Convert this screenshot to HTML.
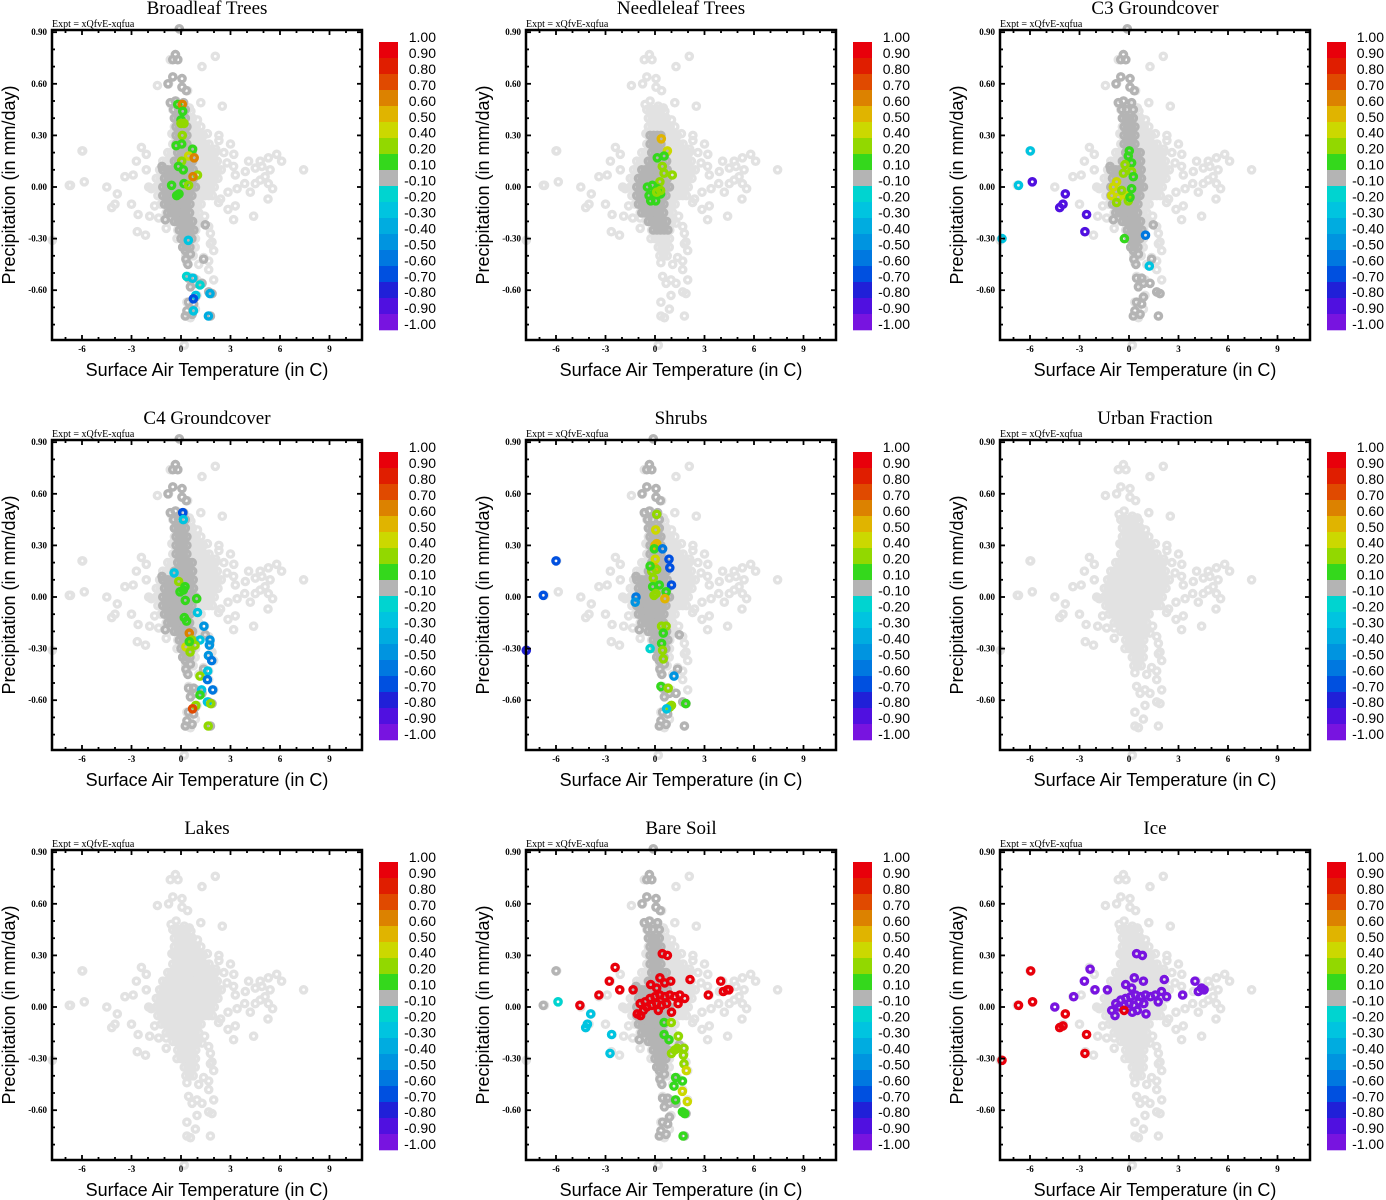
<!DOCTYPE html>
<html><head><meta charset="utf-8"><style>
html,body{margin:0;padding:0;background:#fff;}
svg{display:block;}
.serif{font-family:"Liberation Serif",serif;}
.sans{font-family:"Liberation Sans",sans-serif;}
</style></head>
<body>
<svg id="fig" width="1386" height="1200" xmlns="http://www.w3.org/2000/svg"></svg>
<script>
// ---- shared data ----
const panelTitles = ["Broadleaf Trees","Needleleaf Trees","C3 Groundcover","C4 Groundcover","Shrubs","Urban Fraction","Lakes","Bare Soil","Ice"];
const panelDark = ["full","core","full","full","full","none","none","full","none"];
const xTicks = [-6,-3,0,3,6,9];
const yTicks = [0.9,0.6,0.3,0.0,-0.3,-0.6];
const cbarLabels = ["1.00","0.90","0.80","0.70","0.60","0.50","0.40","0.20","0.10","-0.10","-0.20","-0.30","-0.40","-0.50","-0.60","-0.70","-0.80","-0.90","-1.00"];
const cbarCenters = [0.95,0.85,0.75,0.65,0.55,0.45,0.3,0.15,0,-0.15,-0.25,-0.35,-0.45,-0.55,-0.65,-0.75,-0.85,-0.95];
const cbarColors = ['#e8000b','#e01e00','#e04a00','#dc8200','#e0b400','#ccd800','#92d800','#34d81c','#b4b4b4','#00d4d0','#00c4e0','#00ace0','#0094e0','#0078e0','#0050e0','#2020d8','#5010e0','#7814e0'];

// light-gray scattered points (temperature, precipitation)
const lightT = [-5.96,-6.7,-5.86,-4.5,-3.86,-4.2,-4.0,-3.0,-3.4,-2.9,-2.7,-2.4,-2.1,-2.1,-2.6,-2.65,-2.15,-1.9,-1.96,-1.8,-1.35,-0.9,-1.6,-0.9,-0.24,-1.43,-0.75,-0.5,-0.65,-0.34,-0.18,0.06,0.06,0.4,1.27,2.08,1.2,2.5,-0.6,-0.3,0.2,0.5,0.6,1.0,1.2,1.6,-0.55,0.77,2.3,2.3,3.0,3.2,2.1,2.6,2.79,3.19,3.29,3.9,4.1,4.5,4.8,4.9,5.3,5.8,6.1,5.4,5.1,4.8,4.5,3.86,4.2,5.3,5.55,5.27,4.4,3.19,3.29,2.85,3.4,2.85,2.4,2.28,7.43,1.43,1.68,1.27,1.78,1.88,1.98,1.78,1.37,1.68,1.68,1.98,1.07,0.36,0.46,0.67,0.97,1.27,1.68,1.88,0.97,0.36,0.87,0.36,0.57,1.78,-7.8,0.2,-6.0,-6.77];
const lightP = [0.21,0.01,0.03,0.0,-0.04,-0.12,-0.1,-0.1,0.06,0.07,0.15,0.23,0.19,0.10,-0.16,-0.26,-0.28,-0.17,0,-0.01,-0.18,-0.18,-0.11,-0.24,-0.3,0.59,0.6,0.64,0.74,0.77,0.74,0.63,0.58,0.56,0.7,0.76,0.49,0.47,0.48,0.5,0.47,0.46,0.44,0.39,0.35,0.31,0.31,0.30,0.30,0.27,0.25,0.19,0.22,0.2,0.14,0.12,0.07,0.09,0.15,0.11,0.15,0.12,0.17,0.19,0.15,0.10,0.06,0.04,0.02,0.02,-0.03,0.02,-0.01,-0.07,-0.17,-0.19,-0.11,-0.13,-0.01,-0.03,-0.07,-0.09,0.1,-0.17,-0.23,-0.21,-0.27,-0.32,-0.37,-0.33,-0.41,-0.43,-0.48,-0.54,-0.45,-0.44,-0.52,-0.56,-0.54,-0.56,-0.61,-0.62,-0.63,-0.67,-0.71,-0.75,-0.76,-0.75,-0.31,-0.92,0.21,0.01];
// light-gray dense core rows
const lightRowP = [0.45,0.40,0.35,0.30,0.25,0.20,0.15,0.10,0.05,0.00,-0.05,-0.10,-0.15,-0.20,-0.25,-0.30,-0.35,-0.40];
const lightRowMin = [-0.5,-0.4,-0.4,-0.4,-0.5,-0.8,-1.1,-1.3,-1.5,-1.5,-1.4,-1.2,-0.9,-0.5,-0.2,0.0,0.2,0.3];
const lightRowMax = [0.5,0.7,1.0,1.4,1.8,2.2,2.4,2.6,2.4,2.2,1.9,1.4,1.1,1.1,1.0,0.9,1.0,0.8];

// dark-gray points (shared column)
const darkT = [-0.34,-0.5,-0.2,-0.5,-0.79,0.06,0.06,0.32,-0.34,-0.65,0.16,-0.44,-0.14,0.26,0.26,0.57,0.3,0.42,1.37,0.46,0.77,0.87,0.57,1.27,1.68,1.88,0.87,0.46,0.77,0.36,0.26,0.67,1.78,-1.15,-1.1,-0.95,1.47,-0.1];
const darkP = [0.77,0.74,0.74,0.64,0.6,0.63,0.58,0.56,0.50,0.49,0.49,0.45,0.45,0.45,-0.37,-0.39,-0.42,-0.45,-0.42,-0.53,-0.53,-0.56,-0.58,-0.56,-0.61,-0.62,-0.64,-0.67,-0.68,-0.72,-0.75,-0.74,-0.75,0.12,0.10,-0.19,-0.22,0.92];
const darkRowP = [0.40,0.35,0.30,0.25,0.20,0.15,0.10,0.05,0.00,-0.05,-0.10,-0.15,-0.20,-0.25,-0.30,-0.35];
const darkRowMin = [-0.4,-0.3,-0.3,-0.3,-0.2,-0.4,-0.8,-1.0,-1.1,-1.1,-1.0,-0.8,-0.4,-0.1,0.0,0.1];
const darkRowMax = [0.3,0.4,0.4,0.5,0.7,0.8,0.8,0.9,0.9,0.8,0.7,0.7,0.8,0.8,0.8,0.7];

// coloured points per panel: [temperature, precipitation, value]
const broadleafPts = [[-0.2,0.48,0.15],[0.08,0.48,0.65],[0.1,0.44,0.15],[0,0.39,0.15],[0,0.37,0.3],[0.18,0.37,0.3],[0.08,0.30,0.3],[0.04,0.25,0.15],[-0.3,0.24,0.15],[0.7,0.22,0.15],[0.46,0.18,0.45],[0.8,0.17,0.65],[0.04,0.15,0.3],[-0.16,0.12,0.15],[0.14,0.10,0.15],[1.0,0.07,0.3],[0.73,0.06,0.65],[-0.57,0.01,0.15],[0.18,0.02,0.15],[0.46,0.01,0.3],[-0.26,-0.05,0.15],[-0.12,-0.04,0.15],[0.34,-0.52,-0.15],[0.7,-0.53,-0.25],[1.15,-0.57,-0.15],[0.9,-0.63,-0.25],[0.75,-0.65,-0.65],[1.76,-0.62,-0.35],[0.75,-0.72,-0.25],[1.66,-0.75,-0.35],[0.44,-0.31,-0.25]];
const needleleafPts = [[0.38,0.28,0.55],[0.75,0.21,0.45],[0.14,0.17,0.15],[0.55,0.18,0.15],[0.44,0.12,0.3],[0.55,0.08,0.3],[1.05,0.07,0.3],[0.3,0.03,0.3],[-0.46,0.0,0.15],[-0.16,0.01,0.15],[0.14,-0.01,0.15],[-0.36,-0.05,0.15],[-0.06,-0.04,0.15],[0.24,-0.03,0.15],[-0.26,-0.08,0.15],[0.04,-0.08,0.15],[0.34,-0.04,0.15],[0.1,-0.03,0.3],[0.34,-0.02,0.3]];
const c3Pts = [[-5.98,0.21,-0.25],[-6.7,0.01,-0.25],[-5.86,0.03,-0.85],[-3.86,-0.04,-0.85],[-4.0,-0.1,-0.85],[-4.2,-0.12,-0.85],[-2.57,-0.16,-0.85],[-2.67,-0.26,-0.85],[-7.7,-0.30,-0.25],[-0.28,-0.30,0.15],[1.23,-0.46,-0.25],[1.0,-0.28,-0.55],[0.02,0.21,0.15],[-0.04,0.18,0.15],[0.16,0.14,0.15],[-0.24,0.13,0.3],[-0.34,0.08,0.3],[0.16,0.09,0.3],[0.26,0.06,0.15],[-0.75,0.03,0.45],[-0.95,0.0,0.45],[-1.05,-0.05,0.45],[-0.65,-0.06,0.45],[-0.14,-0.05,0.45],[0.16,-0.01,0.15],[-0.44,-0.02,0.3],[-0.04,-0.08,0.3],[-0.75,-0.09,0.3],[0.06,-0.06,0.15]];
const c4Pts = [[0.1,0.49,-0.65],[0.14,0.45,-0.2],[-0.42,0.14,-0.2],[-0.14,0.09,0.3],[0.14,0.04,0.15],[-0.06,0.03,0.15],[0.24,0.06,0.15],[0.95,-0.01,0.15],[0.26,-0.02,0.15],[0.2,-0.12,0.15],[0.34,-0.14,0.15],[1.0,-0.09,-0.25],[1.39,-0.17,-0.45],[1.15,-0.25,-0.25],[1.76,-0.25,-0.45],[1.72,-0.28,-0.45],[0.5,-0.21,0.65],[0.65,-0.25,0.3],[0.85,-0.28,0.3],[0.3,-0.29,0.45],[0.55,-0.32,0.3],[0.5,-0.26,0.15],[1.66,-0.34,-0.45],[1.86,-0.37,-0.55],[1.62,-0.43,-0.2],[1.15,-0.46,0.3],[1.6,-0.48,-0.55],[1.92,-0.54,-0.55],[1.25,-0.54,-0.2],[1.15,-0.57,0.15],[1.6,-0.61,-0.2],[1.8,-0.62,0.3],[0.9,-0.63,0.3],[0.7,-0.65,0.75],[1.65,-0.75,0.3]];
const shrubsPts = [[-6.0,0.21,-0.65],[-6.77,0.01,-0.65],[-7.8,-0.31,-0.75],[-1.15,0,-0.55],[-1.2,-0.03,-0.45],[0.1,0.48,0.3],[0.04,0.39,0.45],[0.1,0.31,0.55],[0,0.30,0.55],[-0.04,0.28,0.15],[0.46,0.28,-0.55],[0.85,0.22,-0.65],[0.9,0.17,-0.65],[0.02,0.22,0.45],[0,0.17,0.55],[0.1,0.16,0.3],[-0.2,0.15,0.3],[-0.3,0.18,0.15],[-0.1,0.11,0.3],[0.26,0.07,0.15],[-0.14,0.06,0.15],[1.0,0.07,-0.65],[0.67,0.03,0.15],[0.6,-0.01,0.55],[-0.06,0.01,0.3],[0.06,0.02,0.3],[0.4,-0.17,0.3],[0.67,-0.17,0.3],[0.5,-0.21,0.15],[0.4,-0.27,0.15],[0.46,-0.31,0.3],[0.5,-0.36,0.3],[-0.3,-0.3,-0.15],[1.15,-0.46,-0.45],[0.36,-0.52,0.15],[0.8,-0.53,0.3],[1.86,-0.62,0.15],[1.0,-0.63,0.3],[0.9,-0.64,0.3],[0.7,-0.65,-0.2]];
const urbanPts = [];
const lakesPts = [];
const bareSoilPts = [[-6.77,0.01,0],[-6.0,0.21,0],[0.44,0.31,0.95],[0.75,0.30,0.95],[-2.42,0.23,0.95],[-2.77,0.15,0.95],[-2.14,0.10,0.95],[-3.4,0.07,0.95],[-4.55,0.01,0.95],[-1.33,0.10,0.95],[0.3,0.17,0.95],[0.59,0.14,0.95],[0.95,0.15,0.95],[-0.26,0.13,0.95],[0.1,0.11,0.95],[2.12,0.16,0.95],[3.23,0.07,0.95],[3.98,0.15,0.95],[4.14,0.09,0.95],[4.38,0.10,0.95],[4.48,0.10,0.95],[1.0,-0.03,0.95],[-1.07,-0.04,0.95],[-0.87,-0.05,0.95],[-0.9,0.02,0.95],[-0.6,0.03,0.95],[-0.3,0.05,0.95],[0.0,0.06,0.95],[0.3,0.07,0.95],[0.6,0.06,0.95],[0.9,0.07,0.95],[1.2,0.06,0.95],[1.5,0.07,0.95],[1.8,0.05,0.95],[1.4,0.02,0.95],[-0.5,0.0,0.95],[-0.2,0.01,0.95],[0.1,0.02,0.95],[0.4,0.01,0.95],[0.7,0.02,0.95],[-0.7,-0.02,0.95],[0.2,-0.02,0.95],[-5.88,0.03,-0.15],[-3.9,-0.04,-0.2],[-4.1,-0.1,-0.2],[-4.2,-0.12,-0.2],[-2.63,-0.16,-0.2],[-2.73,-0.27,-0.2],[0.55,-0.09,0.15],[0.99,-0.09,0.3],[0.55,-0.16,0.15],[0.85,-0.19,0.15],[1.41,-0.17,0.3],[1.0,-0.27,0.3],[1.2,-0.25,0.3],[1.35,-0.24,0.3],[1.76,-0.24,0.3],[1.72,-0.28,0.3],[1.76,-0.33,0.3],[1.9,-0.37,0.45],[1.25,-0.41,0.15],[1.66,-0.43,0.15],[1.15,-0.46,0.15],[1.66,-0.49,0.45],[1.25,-0.54,0.15],[1.96,-0.55,0.45],[1.66,-0.61,0.15],[1.8,-0.62,0.15],[1.7,-0.75,0.15]];
const icePts = [[-4.5,0.0,-0.9],[-3.35,0.06,-0.9],[-2.7,0.15,-0.9],[-2.36,0.22,-0.9],[-2.06,0.10,-0.9],[-1.31,0.10,-0.9],[0.46,0.31,-0.9],[0.81,0.30,-0.9],[0.32,0.17,-0.9],[0.87,0.15,-0.9],[-0.2,0.13,-0.9],[0.16,0.11,-0.9],[2.14,0.16,-0.9],[3.25,0.07,-0.9],[4.0,0.15,-0.9],[4.2,0.09,-0.9],[4.4,0.11,-0.9],[4.55,0.10,-0.9],[2.28,0.06,-0.9],[1.97,0.09,-0.9],[1.77,0.03,-0.9],[1.03,-0.04,-0.9],[-0.85,-0.05,-0.9],[-1.05,-0.02,-0.9],[-0.8,0.02,-0.9],[-0.5,0.04,-0.9],[-0.2,0.05,-0.9],[0.1,0.06,-0.9],[0.4,0.07,-0.9],[0.7,0.06,-0.9],[1.0,0.07,-0.9],[1.3,0.06,-0.9],[1.6,0.07,-0.9],[-0.6,0.0,-0.9],[-0.3,0.01,-0.9],[0.0,0.02,-0.9],[0.3,0.01,-0.9],[0.6,0.03,-0.9],[0.9,0.02,-0.9],[0.2,-0.03,-0.9],[0.5,-0.02,-0.9],[-5.96,0.21,0.95],[-6.7,0.01,0.95],[-5.84,0.03,0.95],[-3.86,-0.04,0.95],[-4.0,-0.11,0.95],[-4.2,-0.12,0.95],[-2.57,-0.16,0.95],[-2.67,-0.27,0.95],[-7.7,-0.31,0.95],[-0.3,-0.02,0.95]];
const panelPts = [broadleafPts,needleleafPts,c3Pts,c4Pts,shrubsPts,urbanPts,lakesPts,bareSoilPts,icePts];

// ---- drawing ----
const NS = "http://www.w3.org/2000/svg";
const svg = document.getElementById("fig");
function mk(tag, attrs, parent){ const e=document.createElementNS(NS,tag); for(const k in attrs) e.setAttribute(k,attrs[k]); parent.appendChild(e); return e; }
const PX0=52, PX1=362, PY0=30, PY1=340;
function xS(t){ return 181 + 16.5*t; }
function yS(p){ return 187 - 172*p; }
function colorFor(v){ let bi=0, bd=1e9; cbarCenters.forEach((c,i)=>{ const d=Math.abs(c-v); if(d<bd){bd=d;bi=i;} }); return cbarColors[bi]; }
function dot(g, t, p, col, name){
  const c = mk("circle",{cx:xS(t).toFixed(1),cy:yS(p).toFixed(1),r:3.1,fill:"none",stroke:col,"stroke-width":3.4},g);
  
  
}
function rows(g, rp, rmin, rmax, col, name, filter){
  rp.forEach((p,i)=>{ if(filter && !filter(p)) return; for(let t=rmin[i]; t<=rmax[i]+1e-6; t+=0.22){ dot(g,t,p,col,name); } });
}

panelTitles.forEach((title, idx)=>{
  const ox = (idx%3)*474, oy = Math.floor(idx/3)*410;
  const g = mk("g",{transform:`translate(${ox},${oy})`},svg);
  
  
  const tt = mk("text",{x:207,y:14,"text-anchor":"middle","font-size":19,class:"serif"},g);
  tt.textContent = title;
  
  
  const ex = mk("text",{x:52,y:27,"font-size":10,class:"serif"},g);
  ex.textContent = "Expt = xQfvE-xqfua";
  
  
  const pg = mk("g",{},g);
  
  
  lightT.forEach((t,i)=>dot(pg,t,lightP[i],"#e2e2e2","point-light"));
  rows(pg, lightRowP, lightRowMin, lightRowMax, "#e2e2e2", "point-light");
  const dm = panelDark[idx];
  if(dm==="full"){
    darkT.forEach((t,i)=>dot(pg,t,darkP[i],"#b4b4b4","point-neutral"));
    rows(pg, darkRowP, darkRowMin, darkRowMax, "#b4b4b4", "point-neutral");
  } else if(dm==="core"){
    rows(pg, darkRowP, darkRowMin, darkRowMax, "#b4b4b4", "point-neutral", p=>p<=0.3 && p>=-0.25);
  }
  panelPts[idx].forEach(pt=>dot(pg,pt[0],pt[1],colorFor(pt[2]),"point-colored"));
  const fr = mk("rect",{x:PX0,y:PY0,width:PX1-PX0,height:PY1-PY0,fill:"none",stroke:"#000","stroke-width":2.5},g);
  
  
  for(let t=-7; t<=11; t++){
    const x=xS(t); if(x<PX0||x>PX1) continue;
    const L = (t%3===0)?5:3;
    mk("line",{x1:x,y1:PY1,x2:x,y2:PY1-L,stroke:"#000","stroke-width":1.8},g);
    mk("line",{x1:x,y1:PY0,x2:x,y2:PY0+L,stroke:"#000","stroke-width":1.8},g);
  }
  xTicks.forEach(t=>{
    const tx = mk("text",{x:xS(t),y:352,"text-anchor":"middle","font-size":9,"font-weight":"bold",class:"serif"},g);
    tx.textContent = String(t);
    
    
  });
  for(let k=-8; k<=9; k++){
    const p=k/10, y=yS(p); if(y<PY0||y>PY1) continue;
    const L = (k%3===0)?5:3;
    mk("line",{x1:PX0,y1:y,x2:PX0+L,y2:y,stroke:"#000","stroke-width":1.8},g);
    mk("line",{x1:PX1,y1:y,x2:PX1-L,y2:y,stroke:"#000","stroke-width":1.8},g);
  }
  yTicks.forEach(p=>{
    const ty = mk("text",{x:47,y:yS(p)+3,"text-anchor":"end","font-size":9,"font-weight":"bold",class:"serif"},g);
    ty.textContent = p.toFixed(2);
    
    
  });
  const xt = mk("text",{x:207,y:376,"text-anchor":"middle","font-size":18,class:"sans"},g);
  xt.textContent = "Surface Air Temperature (in C)";
  
  
  const yt = mk("text",{x:0,y:0,"text-anchor":"middle","font-size":18,class:"sans",transform:"translate(15,185) rotate(-90)"},g);
  yt.textContent = "Precipitation (in mm/day)";
  
  
  const cb = mk("g",{},g);
  
  
  cbarColors.forEach((c,i)=>{
    const r = mk("rect",{x:379,y:42+i*16,width:19,height:16.3,fill:c},cb);
    
    
  });
  cbarLabels.forEach((s,i)=>{
    const lt = mk("text",{x:436,y:42+i*15.95,"text-anchor":"end","font-size":14,class:"sans"},cb);
    lt.textContent = s;
    
    
  });
});
</script>
</body></html>
